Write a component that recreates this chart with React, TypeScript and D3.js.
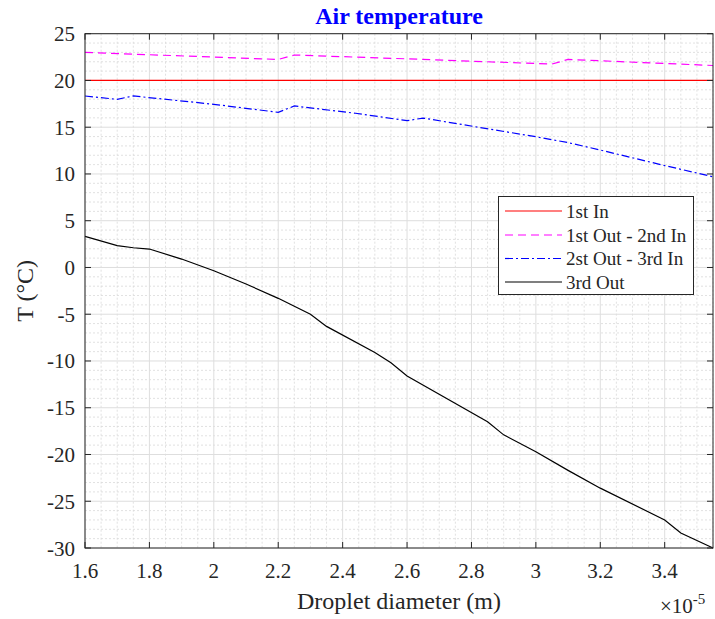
import React from "react";
import * as d3 from "d3";

const title = "Air temperature";
const xLabel = "Droplet diameter (m)";
const yLabel = "T (°C)";
const seriesNames = ["1st In", "1st Out - 2nd In", "2st Out - 3rd In", "3rd Out"];
const seriesColors = ["#ff0000", "#ff00ff", "#0000ff", "#000000"];
const seriesDash = ["", "8,5", "8,3,2,3", ""];

const xTicks = [1.6, 1.8, 2.0, 2.2, 2.4, 2.6, 2.8, 3.0, 3.2, 3.4];
const yTicks = [-30, -25, -20, -15, -10, -5, 0, 5, 10, 15, 20, 25];

const x1 = [1.6, 3.55];
const y1 = [20, 20];

const x2 = [1.6, 2.2, 2.25, 2.6, 3.05, 3.1, 3.55];
const y2 = [23.0, 22.25, 22.72, 22.31, 21.75, 22.25, 21.6];

const x3 = [1.6, 1.7, 1.75, 2.0, 2.2, 2.25, 2.44, 2.6, 2.65, 3.0, 3.1, 3.2, 3.4, 3.55];
const y3 = [18.34, 17.98, 18.34, 17.45, 16.59, 17.27, 16.49, 15.7, 15.98, 13.98, 13.35, 12.56, 10.9, 9.7];

const x4 = [1.6, 1.7, 1.75, 1.8, 1.9, 2.0, 2.1, 2.2, 2.3, 2.35, 2.5, 2.55, 2.6, 2.85, 2.9, 3.0, 3.1, 3.2, 3.4, 3.45, 3.55];
const y4 = [3.33, 2.33, 2.11, 1.97, 0.9, -0.35, -1.77, -3.3, -5.0, -6.3, -9.1, -10.2, -11.6, -16.5, -17.9, -19.7, -21.7, -23.6, -27.0, -28.4, -30.0];

const seriesX = [x1, x2, x3, x4];
const seriesY = [y1, y2, y3, y4];

export default function App() {
  const W = 715, H = 619;
  const L = 85, R = 713, T = 33.7, B = 548;
  const xs = d3.scaleLinear().domain([1.6, 3.55]).range([L, R]);
  const ys = d3.scaleLinear().domain([-30, 25]).range([B, T]);
  const font = "'Liberation Serif', 'Times New Roman', serif";
  const axisColor = "#262626";

  const xMinor = d3.range(1.6, 3.5501, 0.05).filter(v => !xTicks.some(t => Math.abs(t - v) < 1e-6));
  const yMinor = d3.range(-30, 25.001, 1).filter(v => !yTicks.some(t => Math.abs(t - v) < 1e-6));

  const line = d3.line<[number, number]>().x(d => xs(d[0])).y(d => ys(d[1]));

  const legX = 498.5, legY = 196.5, legW = 195, legH = 98;
  const rowY = [211, 235, 258.5, 282];

  return (
    <svg width={W} height={H} style={{ position: "absolute", left: 0, top: 0, background: "#fff" }}>
      <rect x={0} y={0} width={W} height={H} fill="#fff" />
      {/* minor grid */}
      {xMinor.map((v, i) => (
        <line key={"xm" + i} x1={xs(v)} x2={xs(v)} y1={T} y2={B} stroke="#d9d9d9" strokeWidth={0.8} strokeDasharray="2,2" />
      ))}
      {yMinor.map((v, i) => (
        <line key={"ym" + i} y1={ys(v)} y2={ys(v)} x1={L} x2={R} stroke="#d9d9d9" strokeWidth={0.8} strokeDasharray="2,2" />
      ))}
      {/* major grid */}
      {xTicks.map((v, i) => (
        <line key={"xg" + i} x1={xs(v)} x2={xs(v)} y1={T} y2={B} stroke="#dedede" strokeWidth={1} />
      ))}
      {yTicks.map((v, i) => (
        <line key={"yg" + i} y1={ys(v)} y2={ys(v)} x1={L} x2={R} stroke="#dedede" strokeWidth={1} />
      ))}
      {/* series */}
      {seriesX.map((xa, si) => (
        <path key={"s" + si}
          d={line(xa.map((xv, k) => [xv, seriesY[si][k]] as [number, number])) || ""}
          fill="none" stroke={seriesColors[si]} strokeWidth={1.2}
          strokeDasharray={seriesDash[si] || undefined} />
      ))}
      {/* box */}
      <rect x={L} y={T} width={R - L} height={B - T} fill="none" stroke={axisColor} strokeWidth={1} />
      {/* ticks */}
      {xTicks.map((v, i) => (
        <g key={"xt" + i}>
          <line x1={xs(v)} x2={xs(v)} y1={B} y2={B - 6} stroke={axisColor} />
          <line x1={xs(v)} x2={xs(v)} y1={T} y2={T + 6} stroke={axisColor} />
          <text x={xs(v)} y={578} textAnchor="middle" fontFamily={font} fontSize={21} fill={axisColor}>
            {d3.format("")(+v.toFixed(1))}
          </text>
        </g>
      ))}
      {yTicks.map((v, i) => (
        <g key={"yt" + i}>
          <line x1={L} x2={L + 6} y1={ys(v)} y2={ys(v)} stroke={axisColor} />
          <line x1={R} x2={R - 6} y1={ys(v)} y2={ys(v)} stroke={axisColor} />
          <text x={75} y={ys(v) + 7.5} textAnchor="end" fontFamily={font} fontSize={21} fill={axisColor}>
            {v}
          </text>
        </g>
      ))}
      {/* exponent */}
      <text x={660} y={613} fontFamily={font} fontSize={21} fill={axisColor}>
        ×10<tspan dy={-9} fontSize={15}>-5</tspan>
      </text>
      {/* labels */}
      <text x={(L + R) / 2} y={609} textAnchor="middle" fontFamily={font} fontSize={24} fill={axisColor}>{xLabel}</text>
      <text transform={`translate(33, ${(T + B) / 2}) rotate(-90)`} textAnchor="middle" fontFamily={font} fontSize={24} fill={axisColor}>{yLabel}</text>
      <text x={(L + R) / 2} y={23.5} textAnchor="middle" fontFamily={font} fontSize={24} fontWeight="bold" fill="#0000ff">{title}</text>
      {/* legend */}
      <rect x={legX} y={legY} width={legW} height={legH} fill="#fff" stroke={axisColor} strokeWidth={1} />
      {seriesNames.map((n, i) => (
        <g key={"lg" + i}>
          <line x1={505} x2={562} y1={rowY[i]} y2={rowY[i]} stroke={seriesColors[i]} strokeWidth={1.2}
            strokeDasharray={seriesDash[i] || undefined} />
          <text x={566} y={rowY[i] + 6.5} fontFamily={font} fontSize={19} fill={axisColor}>{n}</text>
        </g>
      ))}
    </svg>
  );
}
